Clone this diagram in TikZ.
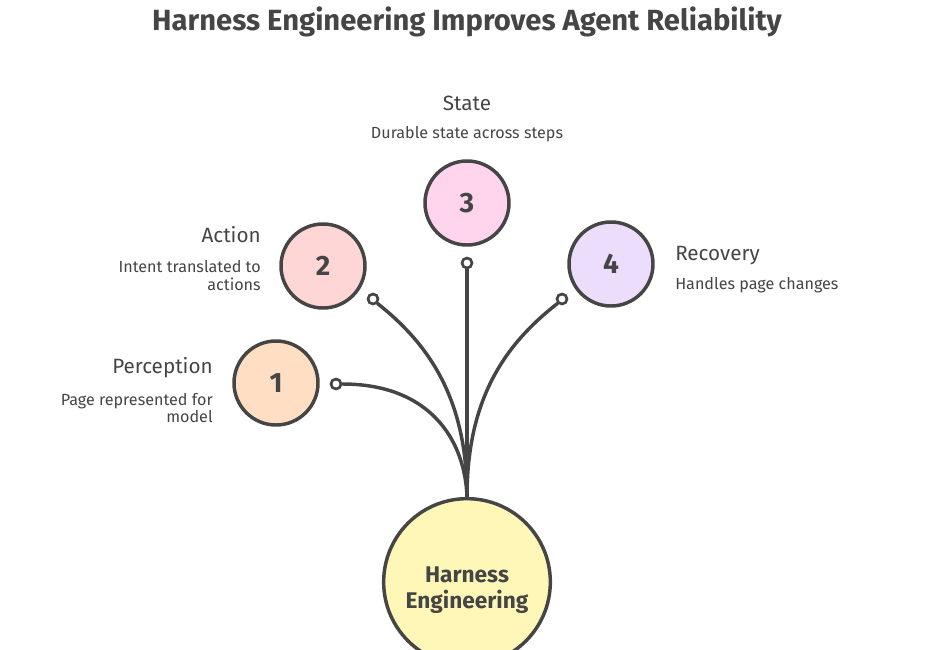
\documentclass[tikz,border=0pt]{standalone}
\usepackage{fontspec}
\setmainfont{Fira Sans}
\definecolor{ink}{HTML}{454545}
\definecolor{fillA}{HTML}{FFDEC4}
\definecolor{fillB}{HTML}{FFD6D6}
\definecolor{fillC}{HTML}{FFD4EC}
\definecolor{fillD}{HTML}{EDDDFC}
\definecolor{fillE}{HTML}{FFF7B8}
\tikzset{
  stepcircle/.style={circle, draw=ink, line width=2.6pt, minimum size=63pt, inner sep=0pt,
     font=\fontsize{21}{22}\selectfont\bfseries, text=ink},
  hubcircle/.style={circle, draw=ink, line width=2.6pt, minimum size=125pt, inner sep=0pt,
     fill=fillE},
  hublabel/.style={font=\fontsize{17}{18}\selectfont\bfseries, text=ink, align=center, inner sep=0pt},
  enddot/.style={circle, draw=ink, line width=2pt, fill=white, minimum size=7.5pt, inner sep=0pt},
  link/.style={draw=ink, line width=2.6pt, line cap=round},
  headtext/.style={font=\fontsize{15.5}{17}\selectfont, text=ink, inner sep=0pt},
  desctext/.style={font=\fontsize{12.1}{14}\selectfont, text=ink, inner sep=0pt},
}
\begin{document}
\begin{tikzpicture}[x=0.75pt,y=-0.75pt]
\useasboundingbox (0,0) rectangle (936,650);
\clip (0,0) rectangle (936,650);
% title
\node[anchor=base, font=\fontsize{21.9}{24}\selectfont\bfseries, text=ink, inner sep=0pt] (title) at (467,30) {Harness Engineering Improves Agent Reliability};
% hub
\node[hubcircle] (hub) at (467,582) {};
\node[hublabel] (hubtext) at (467,590) {Harness\\[1pt]Engineering};
% end dots
\node[enddot] (d1) at (336,384) {};
\node[enddot] (d2) at (373,299) {};
\node[enddot] (d3) at (467,263) {};
\node[enddot] (d4) at (562,299) {};
% connectors
\draw[link] (hub.north) .. controls (465,440) and (430,384) .. (d1.east);
\draw[link] (hub.north) .. controls (467,400) and (430,345) .. (d2.south east);
\draw[link] (hub.north) -- (d3.south);
\draw[link] (hub.north) .. controls (467,400) and (504,345) .. (d4.south west);
% step circles
\node[stepcircle, fill=fillA] (s1) at (276,383) {1};
\node[stepcircle, fill=fillB] (s2) at (323,266) {2};
\node[stepcircle, fill=fillC] (s3) at (467,203) {3};
\node[stepcircle, fill=fillD] (s4) at (611,264) {4};
% labels
\node[headtext, anchor=base east] (h1) at (213,373) {Perception};
\node[desctext, anchor=base east] (t1a) at (213,405) {Page represented for};
\node[desctext, anchor=base east] (t1b) at (213,422) {model};
\node[headtext, anchor=base east] (h2) at (261,242) {Action};
\node[desctext, anchor=base east] (t2a) at (261,272) {Intent translated to};
\node[desctext, anchor=base east] (t2b) at (261,290) {actions};
\node[headtext, anchor=base] (h3) at (467,110) {State};
\node[desctext, anchor=base] (t3) at (467,138) {Durable state across steps};
\node[headtext, anchor=base west] (h4) at (675,260) {Recovery};
\node[desctext, anchor=base west] (t4) at (675,289) {Handles page changes};
\end{tikzpicture}
\end{document}
